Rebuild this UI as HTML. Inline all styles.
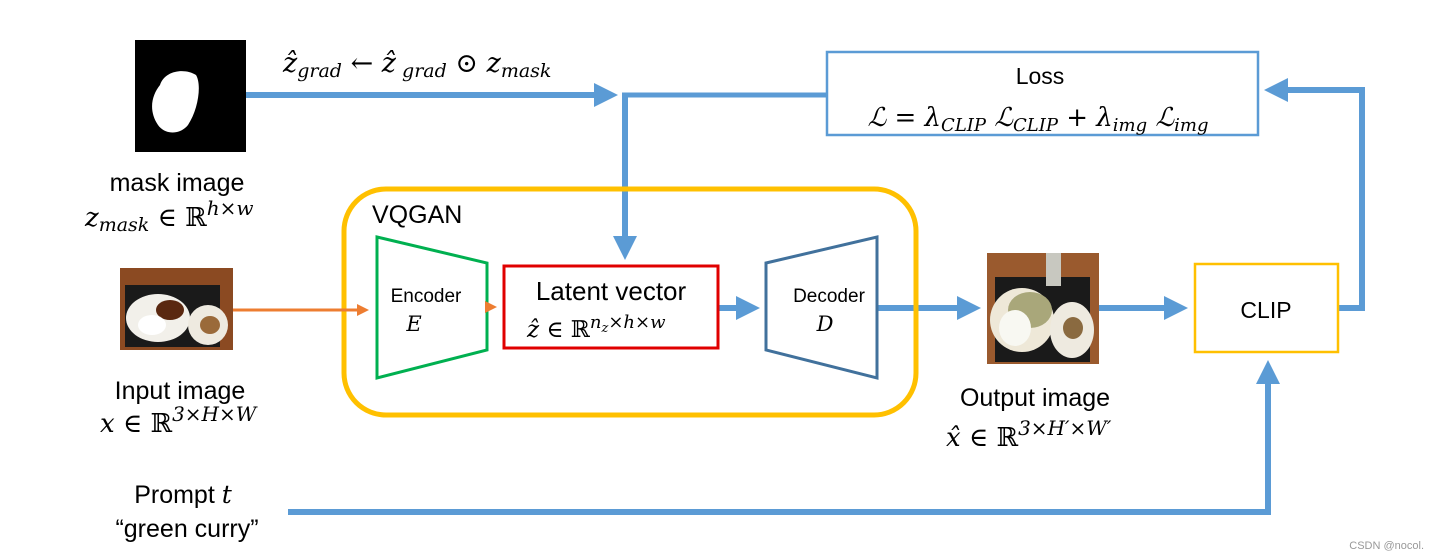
<!DOCTYPE html>
<html><head><meta charset="utf-8"><style>
body{margin:0;background:#fff;}
svg{display:block}
.s{font-family:"Liberation Sans",sans-serif;}
.m{font-family:"DejaVu Serif","Liberation Serif",serif;font-style:italic;}
</style></head><body>
<svg width="1440" height="558" viewBox="0 0 1440 558" xmlns="http://www.w3.org/2000/svg">
<defs>
<marker id="ab" markerWidth="4" markerHeight="4" refX="3" refY="2" orient="auto" markerUnits="strokeWidth"><path d="M0,0 L4,2 L0,4 Z" fill="#5B9BD5"/></marker>
<marker id="ao" markerWidth="4" markerHeight="4" refX="3" refY="2" orient="auto" markerUnits="strokeWidth"><path d="M0,0 L4,2 L0,4 Z" fill="#ED7D31"/></marker>
</defs>
<rect x="135" y="40" width="111" height="112" fill="#000"/>
<path d="M160,85 C165,70 185,68 196,75 C202,85 198,110 188,125 C180,135 165,135 158,125 C148,110 152,95 160,85Z" fill="#fff"/>
<g stroke="#5B9BD5" stroke-width="6" fill="none">
<line x1="246" y1="95" x2="612" y2="95" marker-end="url(#ab)"/>
<line x1="622" y1="95" x2="827" y2="95" stroke-width="5"/>
<line x1="625" y1="95" x2="625" y2="254" marker-end="url(#ab)"/>
<polyline points="1338,308 1362,308 1362,90 1270,90" marker-end="url(#ab)"/>
<line x1="718" y1="308" x2="754" y2="308" marker-end="url(#ab)"/>
<line x1="877" y1="308" x2="975" y2="308" marker-end="url(#ab)"/>
<line x1="1099" y1="308" x2="1182" y2="308" marker-end="url(#ab)"/>
<polyline points="288,512 1268,512 1268,366" marker-end="url(#ab)"/>
</g>
<rect x="827" y="52" width="431" height="83" fill="#fff" stroke="#5B9BD5" stroke-width="2.5"/>
<text x="1040" y="84" class="s" font-size="23" text-anchor="middle">Loss</text>
<text x="1038" y="126" class="m" font-size="26" text-anchor="middle">ℒ = λ<tspan font-size="18" dy="5">CLIP</tspan><tspan dy="-5"> ℒ</tspan><tspan font-size="18" dy="5">CLIP</tspan><tspan dy="-5" font-style="normal"> + </tspan>λ<tspan font-size="18" dy="5">img</tspan><tspan dy="-5"> ℒ</tspan><tspan font-size="18" dy="5">img</tspan></text>
<text x="283" y="72" class="m" font-size="27">ẑ<tspan font-size="19" dy="5">grad</tspan><tspan dy="-5" font-style="normal"> ← </tspan>ẑ<tspan font-size="19" dy="5"> grad</tspan><tspan dy="-5" font-style="normal"> ⊙ </tspan>z<tspan font-size="19" dy="5">mask</tspan></text>
<rect x="344" y="189" width="572" height="226" rx="42" fill="none" stroke="#FFC000" stroke-width="5"/>
<text x="372" y="223" class="s" font-size="25">VQGAN</text>
<polygon points="377,237 487,263 487,350 377,378" fill="#fff" stroke="#00B050" stroke-width="3"/>
<text x="426" y="302" class="s" font-size="19" text-anchor="middle">Encoder</text>
<text x="414" y="331" class="m" font-size="21" text-anchor="middle">E</text>
<polygon points="766,263 877,237 877,378 766,350" fill="#fff" stroke="#41719C" stroke-width="3"/>
<text x="829" y="302" class="s" font-size="19" text-anchor="middle">Decoder</text>
<text x="825" y="331" class="m" font-size="21" text-anchor="middle">D</text>
<rect x="504" y="266" width="214" height="82" fill="#fff" stroke="#E00000" stroke-width="3"/>
<text x="611" y="300" class="s" font-size="26" text-anchor="middle">Latent vector</text>
<text x="527" y="337" class="m" font-size="23">ẑ <tspan font-style="normal">∈ ℝ</tspan><tspan font-size="18" dy="-9">n<tspan font-size="13" dy="4">z</tspan><tspan dy="-4">×h×w</tspan></tspan></text>
<line x1="233" y1="310" x2="366" y2="310" stroke="#ED7D31" stroke-width="3" marker-end="url(#ao)"/>
<line x1="487" y1="307" x2="494" y2="307" stroke="#ED7D31" stroke-width="3" marker-end="url(#ao)"/>
<rect x="120" y="268" width="113" height="82" fill="#8B4A22"/>
<rect x="125" y="285" width="95" height="62" fill="#1a1a1a"/>
<ellipse cx="158" cy="318" rx="32" ry="24" fill="#f2f0ea"/>
<ellipse cx="170" cy="310" rx="14" ry="10" fill="#5a2810"/>
<ellipse cx="152" cy="325" rx="14" ry="10" fill="#fff"/>
<ellipse cx="208" cy="325" rx="20" ry="20" fill="#eeeae0"/>
<ellipse cx="210" cy="325" rx="10" ry="9" fill="#9a6a3a"/>
<rect x="987" y="253" width="112" height="111" fill="#9A5A2E"/>
<rect x="995" y="277" width="95" height="85" fill="#1a1a1a"/>
<rect x="1046" y="253" width="15" height="33" fill="#c8c8c0"/>
<ellipse cx="1022" cy="320" rx="32" ry="32" fill="#eee8d8"/>
<ellipse cx="1030" cy="310" rx="22" ry="18" fill="#a9a77a"/>
<ellipse cx="1015" cy="328" rx="16" ry="18" fill="#f8f8f2"/>
<ellipse cx="1072" cy="330" rx="22" ry="28" fill="#eeeae0"/>
<ellipse cx="1073" cy="328" rx="10" ry="11" fill="#8a6a40"/>
<rect x="1195" y="264" width="143" height="88" fill="#fff" stroke="#FFC000" stroke-width="2.5"/>
<text x="1266" y="318" class="s" font-size="23" text-anchor="middle">CLIP</text>
<text x="177" y="191" class="s" font-size="25" text-anchor="middle">mask image</text>
<text x="85" y="226" class="m" font-size="26">z<tspan font-size="19" dy="5">mask</tspan><tspan dy="-5" font-style="normal">  ∈ ℝ</tspan><tspan font-size="20" dy="-11">h×w</tspan></text>
<text x="180" y="399" class="s" font-size="25" text-anchor="middle">Input image</text>
<text x="100" y="432" class="m" font-size="26">x <tspan font-style="normal"> ∈ ℝ</tspan><tspan font-size="20" dy="-11">3×H×W</tspan></text>
<text x="183" y="503" class="s" font-size="25" text-anchor="middle">Prompt <tspan class="m">t</tspan></text>
<text x="187" y="537" class="s" font-size="25" text-anchor="middle">“green curry”</text>
<text x="1035" y="406" class="s" font-size="25" text-anchor="middle">Output image</text>
<text x="946" y="446" class="m" font-size="26">x̂ <tspan font-style="normal"> ∈ ℝ</tspan><tspan font-size="20" dy="-11">3×H′×W′</tspan></text>
<text x="1424" y="549" class="s" font-size="11" fill="#999" text-anchor="end">CSDN @nocol.</text>
</svg>
</body></html>
